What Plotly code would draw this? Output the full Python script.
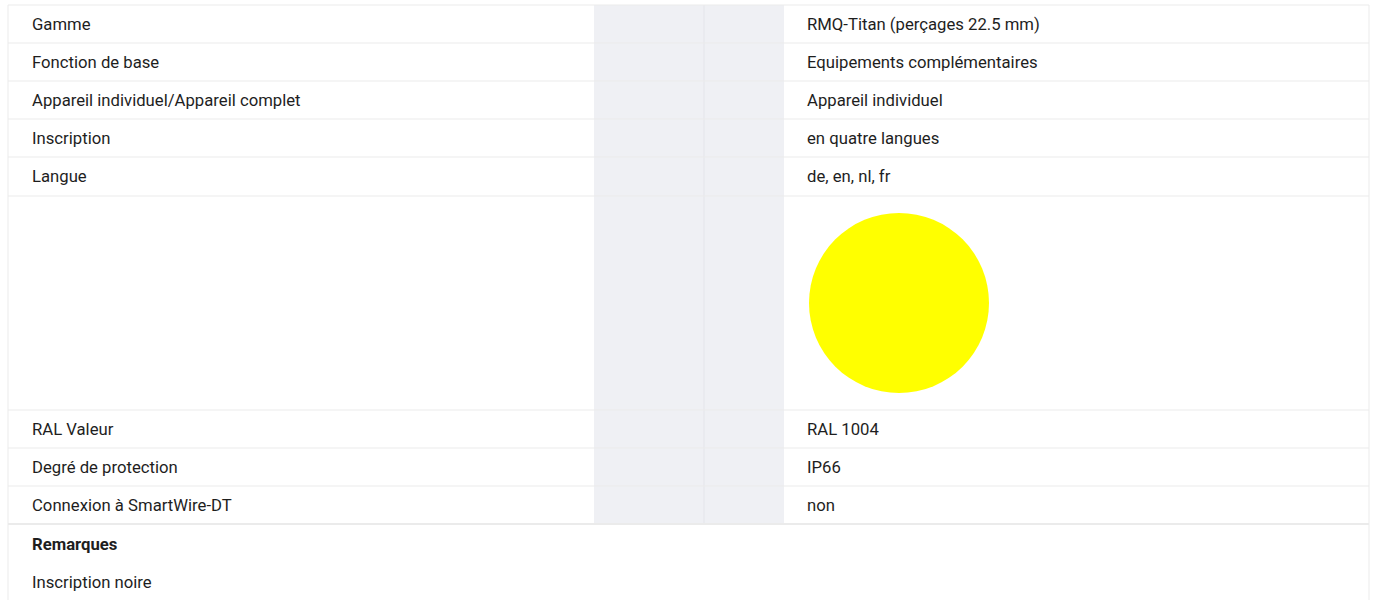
import plotly.graph_objects as go

# ---- data ----
labels = ["Gamme", "Fonction de base", "Appareil individuel/Appareil complet",
          "Inscription", "Langue", "", "RAL Valeur", "Degré de protection",
          "Connexion à SmartWire-DT"]
values = ["RMQ-Titan (perçages 22.5 mm)", "Equipements complémentaires",
          "Appareil individuel", "en quatre langues", "de, en, nl, fr", "",
          "RAL 1004", "IP66", "non"]
row_heights = [38, 38, 38, 38, 39, 214, 38, 38, 38]
swatch_row = 5
swatch_color = "#ffff00"
remarks_title = "Remarques"
remarks = ["Inscription noire"]

# ---- layout constants ----
W, H = 1375, 600
left, right, top = 8, 1369, 5
label_x, value_x = 30, 805
swatch_x0 = 809
gray_x0, gray_mid, gray_x1 = 594, 704, 784
line_col = "#ebebeb"
gray_col = "#eff0f4"
text_col = "#1e1e1e"
font_family = "Roboto, 'Liberation Sans', Arial, sans-serif"
fs = 16.7

fig = go.Figure()
shapes = []
annotations = []

# row boundaries
bounds = [top]
for h in row_heights:
    bounds.append(bounds[-1] + h)
table_bottom = bounds[-1]

# gray column
shapes.append(dict(type="rect", x0=gray_x0, x1=gray_x1, y0=top, y1=table_bottom,
                   fillcolor=gray_col, line=dict(width=0), layer="below"))
shapes.append(dict(type="line", x0=gray_mid, x1=gray_mid, y0=top, y1=table_bottom,
                   line=dict(color="#e4e5ea", width=1)))

# horizontal lines
for i, b in enumerate(bounds):
    shapes.append(dict(type="line", x0=left, x1=right, y0=b, y1=b,
                       line=dict(color=line_col, width=2 if i == len(bounds) - 1 else 1)))
# outer borders
shapes.append(dict(type="line", x0=left, x1=left, y0=top, y1=H,
                   line=dict(color=line_col, width=1)))
shapes.append(dict(type="line", x0=right, x1=right, y0=top, y1=H,
                   line=dict(color=line_col, width=1)))

font = dict(size=fs, color=text_col, family=font_family)

# text rows
for i, (lab, val) in enumerate(zip(labels, values)):
    yc = (bounds[i] + bounds[i + 1]) / 2
    if lab:
        annotations.append(dict(x=label_x, y=yc, text=lab, xanchor="left", yanchor="middle",
                                showarrow=False, font=font))
    if val:
        annotations.append(dict(x=value_x, y=yc, text=val, xanchor="left", yanchor="middle",
                                showarrow=False, font=font))

# colour swatch
yc = (bounds[swatch_row] + bounds[swatch_row + 1]) / 2
r = 90
cx = swatch_x0 + r
shapes.append(dict(type="circle", x0=cx - r, x1=cx + r, y0=yc - r, y1=yc + r,
                   fillcolor=swatch_color, line=dict(width=0)))

# remarks
annotations.append(dict(x=label_x, y=table_bottom + 20, text="<b>" + remarks_title + "</b>",
                        xanchor="left", yanchor="middle", showarrow=False, font=font))
for k, rm in enumerate(remarks):
    annotations.append(dict(x=label_x, y=table_bottom + 58 + 38 * k, text=rm,
                            xanchor="left", yanchor="middle", showarrow=False, font=font))

fig.update_layout(
    width=W, height=H, margin=dict(l=0, r=0, t=0, b=0),
    paper_bgcolor="white", plot_bgcolor="white",
    xaxis=dict(range=[0, W], visible=False, fixedrange=True),
    yaxis=dict(range=[H, 0], visible=False, fixedrange=True),
    shapes=shapes, annotations=annotations, showlegend=False,
)
fig.write_html("out.html", config={"displayModeBar": False},
               post_script="document.body.style.margin='0';document.body.style.overflow='hidden';")
